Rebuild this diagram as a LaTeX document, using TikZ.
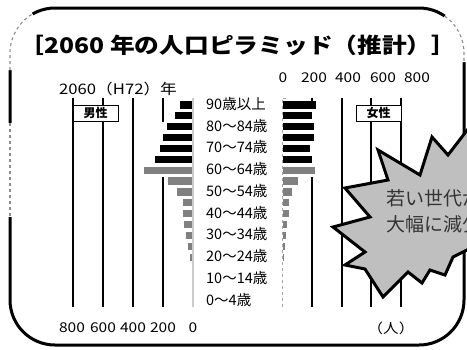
\documentclass[tikz,border=0pt]{standalone}
\usepackage{fontspec}
\setmainfont{Noto Sans CJK JP}
\newfontfamily\widefont{Noto Sans CJK JP}[FakeStretch=1.15]
\begin{document}
\begin{tikzpicture}[x=1pt,y=-1pt,
		gridline/.style={line width=2.6pt},
		blackbar/.style={fill=black},
		graybar/.style={fill=black!50},
		zeroaxis/.style={black!20,line width=2pt},
		agelabel/.style={anchor=west,inner sep=0pt,font=\fontsize{14.5}{14.5}\selectfont},
		numlabel/.style={inner sep=0pt,font=\widefont\fontsize{13.5}{13.5}\selectfont},
		sexbox/.style={draw,line width=0.9pt,fill=white,minimum width=45pt,minimum height=16pt,inner sep=0pt,font=\bfseries\fontsize{12}{12}\selectfont},
		burst/.style={fill=black!25,draw=black,line width=3pt,line join=miter},
		bursttext/.style={anchor=west,inner sep=0pt,text=black!80,font=\fontsize{19}{19}\selectfont},
		frameline/.style={line width=3pt},
		framedash/.style={black!45,line width=1.1pt,dashed}]
		
		\useasboundingbox (0,0) rectangle (467,349);
		
		% frame
		\draw[frameline,rounded corners=45pt] (10,8) rectangle (464,345);
		\draw[white,line width=4.5pt] (10,70)--(10,53) arc[start angle=180,end angle=240,radius=45];
		\draw[framedash] (10,70)--(10,53) arc[start angle=180,end angle=240,radius=45];
		\draw[white,line width=4.5pt] (444.8,16.1) arc[start angle=305,end angle=360,radius=45]--(464,62);
		\draw[framedash] (444.8,16.1) arc[start angle=305,end angle=360,radius=45]--(464,62);
		\draw[white,line width=4.5pt] (10,123)--(10,217);
		\draw[framedash] (10,123)--(10,217);
		
		% title
		\node[inner sep=0pt,font=\widefont\bfseries\fontsize{21.5}{21.5}\selectfont] (title) at (238,45) {［2060 年の人口ピラミッド（推計）］};
		\node[anchor=west,inner sep=0pt,font=\widefont\fontsize{14.5}{14.5}\selectfont] (year) at (59,89) {2060（H72）年};
		
		% grid
		\foreach \gx in {73,103,133,342,371,401}
		\draw[gridline] (\gx,98)--(\gx,307);
		\draw[gridline] (163,98)--(163,122) (163,177)--(163,307);
		\draw[gridline] (312,98)--(312,101) (312,177)--(312,307);
		\draw[zeroaxis] (193,98)--(193,307);
		\draw[black!35,dashed,line width=0.6pt] (286,98)--(282,98)--(282,307);
		
		% bars: row / male / female
		\foreach \r/\lw/\rw [evaluate=\r as \yc using 105+(\r-1)*10.87] in
		{1/12/33,2/17/29,3/25/31,4/29/31,5/32/27,6/37/29}{
			\fill[blackbar] (192-\lw,\yc-3.6) rectangle (192,\yc+3.6);
			\fill[blackbar] (283,\yc-3.6) rectangle (283+\rw,\yc+3.6);
		}
		\foreach \r/\lw/\rw [evaluate=\r as \yc using 105+(\r-1)*10.87] in
		{7/48/32,8/24/15,9/15/9,10/9/6,11/9/6,12/8/4,13/6/3,14/4/1.5,15/2/1}{
			\fill[graybar] (192-\lw,\yc-3.6) rectangle (192,\yc+3.6);
			\fill[graybar] (283,\yc-3.6) rectangle (283+\rw,\yc+3.6);
		}
		
		% age labels
		\foreach \lab [count=\i] in {90歳以上,80〜84歳,70〜74歳,60〜64歳,50〜54歳,40〜44歳,30〜34歳,20〜24歳,10〜14歳,0〜4歳}
		\node[agelabel] (age\i) at (206,{104+(2*\i-2)*10.87}) {\lab};
		
		% scales
		\foreach \v/\px in {0/283,200/314,400/348,600/383,800/417}
		\node[numlabel] (top\v) at (\px,78) {\v};
		\foreach \v/\px in {800/72,600/103,400/133,200/163,0/193}
		\node[numlabel] (bot\v) at (\px,328) {\v};
		\node[numlabel] (unit) at (391,328) {（人）};
		
		\node[sexbox] (male) at (95.5,113) {男性};
		\node[sexbox] (female) at (378.5,113) {女性};
		
		% burst
		\begin{scope}
			\clip (0,0) rectangle (467,349);
			\draw[burst] (345,188)--(388,180)--(378,150)--(420,175)--(432,137)--(448,155)
			--(475,120)--(495,180)--(475,246)--(453,257)--(445,275)--(430,270)--(422,283)
			--(408,272)--(383,297)--(365,269)--(345,265)--(365,252)--(333,227)--(370,217)--cycle;
			\node[bursttext] (msg1) at (386,198) {若い世代が};
			\node[bursttext] (msg2) at (386,224) {大幅に減少};
		\end{scope}
		
	\end{tikzpicture}
\end{document}
